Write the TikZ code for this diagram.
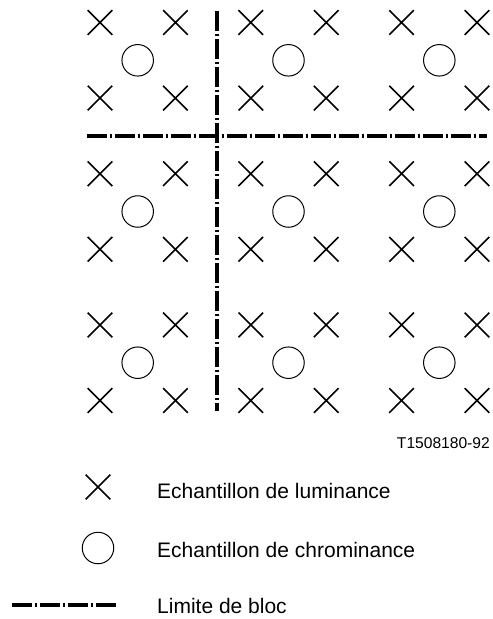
\documentclass[tikz,border=0pt]{standalone}
\usepackage{fontspec}
\setmainfont{Liberation Sans}
\usetikzlibrary{shapes.misc}
\begin{document}
\begin{tikzpicture}[x=1pt,y=-1pt,
  lum/.style={draw,cross out,line width=1.6pt,minimum size=23pt,inner sep=0pt},
  chrom/.style={draw,circle,line width=1pt,minimum size=31.5pt,inner sep=0pt},
  bloc/.style={line width=4pt,dash pattern=on 20pt off 2.6pt on 2.8pt off 2.6pt},
  lbl/.style={font=\fontsize{21}{24}\selectfont,anchor=base west,inner sep=0pt},
  ref/.style={font=\fontsize{15.6}{18}\selectfont,anchor=base east,inner sep=0pt}]
\useasboundingbox (0,0) rectangle (493,619);
\def\s{75.4}
% luminance samples
\foreach \i in {0,...,5}{
  \foreach \j in {0,...,5}{
    \node[lum] (x\i\j) at ({100+\s*\i},{22.5+75.6*\j}) {};
  }
}
% chrominance samples
\foreach \a in {0,1,2}{
  \foreach \b in {0,1,2}{
    \node[chrom] (c\a\b) at ({137.7+2*\s*\a},{60.3+2*75.6*\b}) {};
  }
}
% block boundaries
\coordinate (vt) at (216.7,11);
\coordinate (vb) at (216.7,411);
\coordinate (hl) at (87,136);
\coordinate (hr) at (487,136);
\draw[bloc] (vt) -- (vb);
\draw[bloc] (hl) -- (hr);
% reference
\node[ref] (refno) at (490,448) {T1508180-92};
% legend
\node[lum] (lx) at (98,487) {};
\node[lbl] (tx) at (157,498) {Echantillon de luminance};
\node[chrom] (lc) at (98,548) {};
\node[lbl] (tc) at (157,557.7) {Echantillon de chrominance};
\coordinate (ld1) at (12,605);
\coordinate (ld2) at (116,605);
\draw[bloc] (ld1) -- (ld2);
\node[lbl] (tl) at (157,613.3) {Limite de bloc};
\end{tikzpicture}
\end{document}
